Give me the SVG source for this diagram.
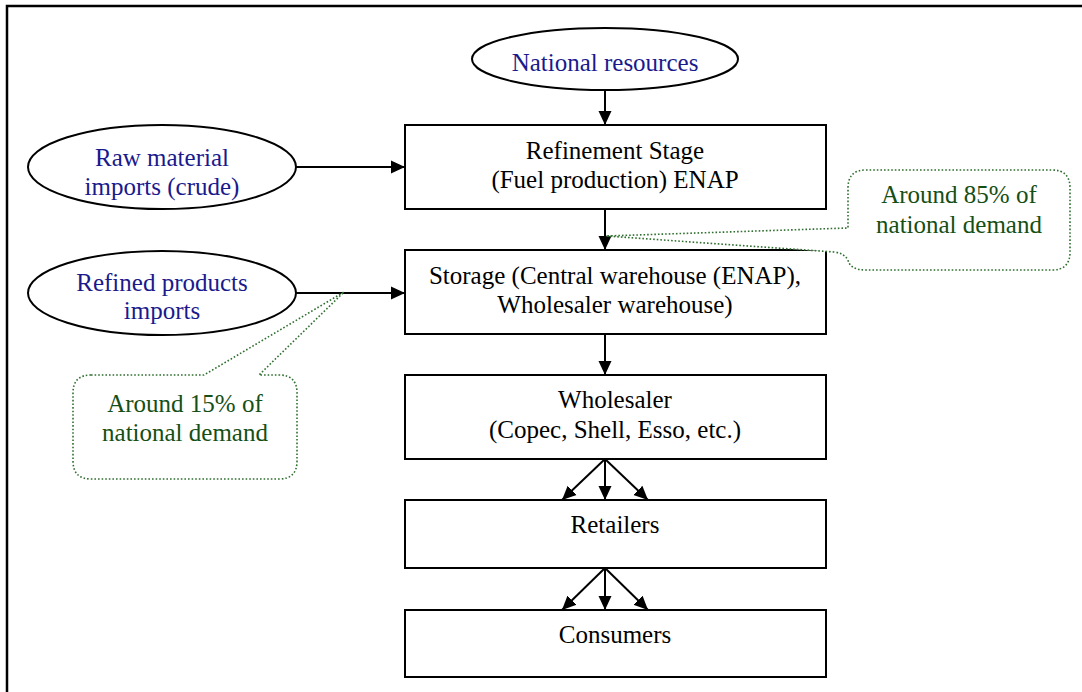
<svg xmlns="http://www.w3.org/2000/svg" width="1082" height="692" viewBox="0 0 1082 692">
<style>
  .box { fill: #ffffff; stroke: #000000; stroke-width: 2; }
  .ell { fill: #ffffff; stroke: #000000; stroke-width: 2; }
  .t { fill: #000000; }
  .tb { fill: #1a1a8c; }
  .tg { fill: #154f15; }
  .call { fill: #ffffff; stroke: #2f6f2f; stroke-width: 1.6; stroke-dasharray: 1.6 2; }
  .edge { stroke: #000000; stroke-width: 2; fill: none; marker-end: url(#ah); }
  .frame { stroke: #000000; stroke-width: 2.5; fill: none; }
</style>
<defs>
  <marker id="ah" markerUnits="userSpaceOnUse" markerWidth="14" markerHeight="14" viewBox="0 0 14 14" refX="14" refY="7" orient="auto">
    <path d="M0,0.5 L14,7 L0,13.5 Z" fill="#000000"/>
  </marker>
</defs>
<rect x="0" y="0" width="1082" height="692" fill="#ffffff"/>
<path class="frame" d="M7,692 V6 H1082"/>

<g id="connectors">
  <line class="edge" x1="605" y1="91" x2="605" y2="125"/>
  <line class="edge" x1="296" y1="167" x2="405" y2="167"/>
  <line class="edge" x1="296" y1="293" x2="405" y2="293"/>
  <line class="edge" x1="605" y1="209" x2="605" y2="250"/>
  <line class="edge" x1="605" y1="334" x2="605" y2="375"/>
  <line class="edge" x1="605" y1="459" x2="562" y2="500"/>
  <line class="edge" x1="605" y1="459" x2="605" y2="500"/>
  <line class="edge" x1="605" y1="459" x2="648" y2="500"/>
  <line class="edge" x1="605" y1="568" x2="562" y2="610"/>
  <line class="edge" x1="605" y1="568" x2="605" y2="610"/>
  <line class="edge" x1="605" y1="568" x2="648" y2="610"/>
</g>

<g font-family="Liberation Serif, Times New Roman, serif" font-size="25" text-anchor="middle">
<g id="national">
  <ellipse class="ell" cx="605" cy="59" rx="133" ry="31"/>
  <text class="tb" x="605" y="71">National resources</text>
</g>

<g id="raw">
  <ellipse class="ell" cx="162" cy="167" rx="134" ry="42"/>
  <text class="tb" x="162" y="166">Raw material</text>
  <text class="tb" x="162" y="195">imports (crude)</text>
</g>

<g id="refined">
  <ellipse class="ell" cx="162" cy="293" rx="134" ry="42"/>
  <text class="tb" x="162" y="291">Refined products</text>
  <text class="tb" x="162" y="319">imports</text>
</g>

<g id="refinement">
  <rect class="box" x="405" y="125" width="421" height="84"/>
  <text class="t" x="615" y="159">Refinement Stage</text>
  <text class="t" x="615" y="188">(Fuel production) ENAP</text>
</g>

<g id="storage">
  <rect class="box" x="405" y="250" width="421" height="84"/>
  <text class="t" x="615" y="284">Storage (Central warehouse (ENAP),</text>
  <text class="t" x="615" y="313">Wholesaler warehouse)</text>
</g>

<g id="wholesaler">
  <rect class="box" x="405" y="375" width="421" height="84"/>
  <text class="t" x="615" y="408">Wholesaler</text>
  <text class="t" x="615" y="438">(Copec, Shell, Esso, etc.)</text>
</g>

<g id="retailers">
  <rect class="box" x="405" y="500" width="421" height="68"/>
  <text class="t" x="615" y="533">Retailers</text>
</g>

<g id="consumers">
  <rect class="box" x="405" y="610" width="421" height="67"/>
  <text class="t" x="615" y="643">Consumers</text>
</g>

<g id="callout85">
  <path class="call" d="M866,170 H1052 Q1070,170 1070,188 V252 Q1070,270 1052,270 H866 Q850,270 848,260 Q844,253 834,252 L606,236 L848,228 V188 Q848,170 866,170 Z"/>
  <text class="tg" x="959" y="203">Around 85% of</text>
  <text class="tg" x="959" y="233">national demand</text>
</g>

<g id="callout15">
  <path class="call" d="M91,375 H204 L344,292 L259,375 H279 Q297,375 297,393 V461 Q297,479 279,479 H91 Q73,479 73,461 V393 Q73,375 91,375 Z"/>
  <text class="tg" x="185" y="412">Around 15% of</text>
  <text class="tg" x="185" y="441">national demand</text>
</g>
</g>
</svg>
